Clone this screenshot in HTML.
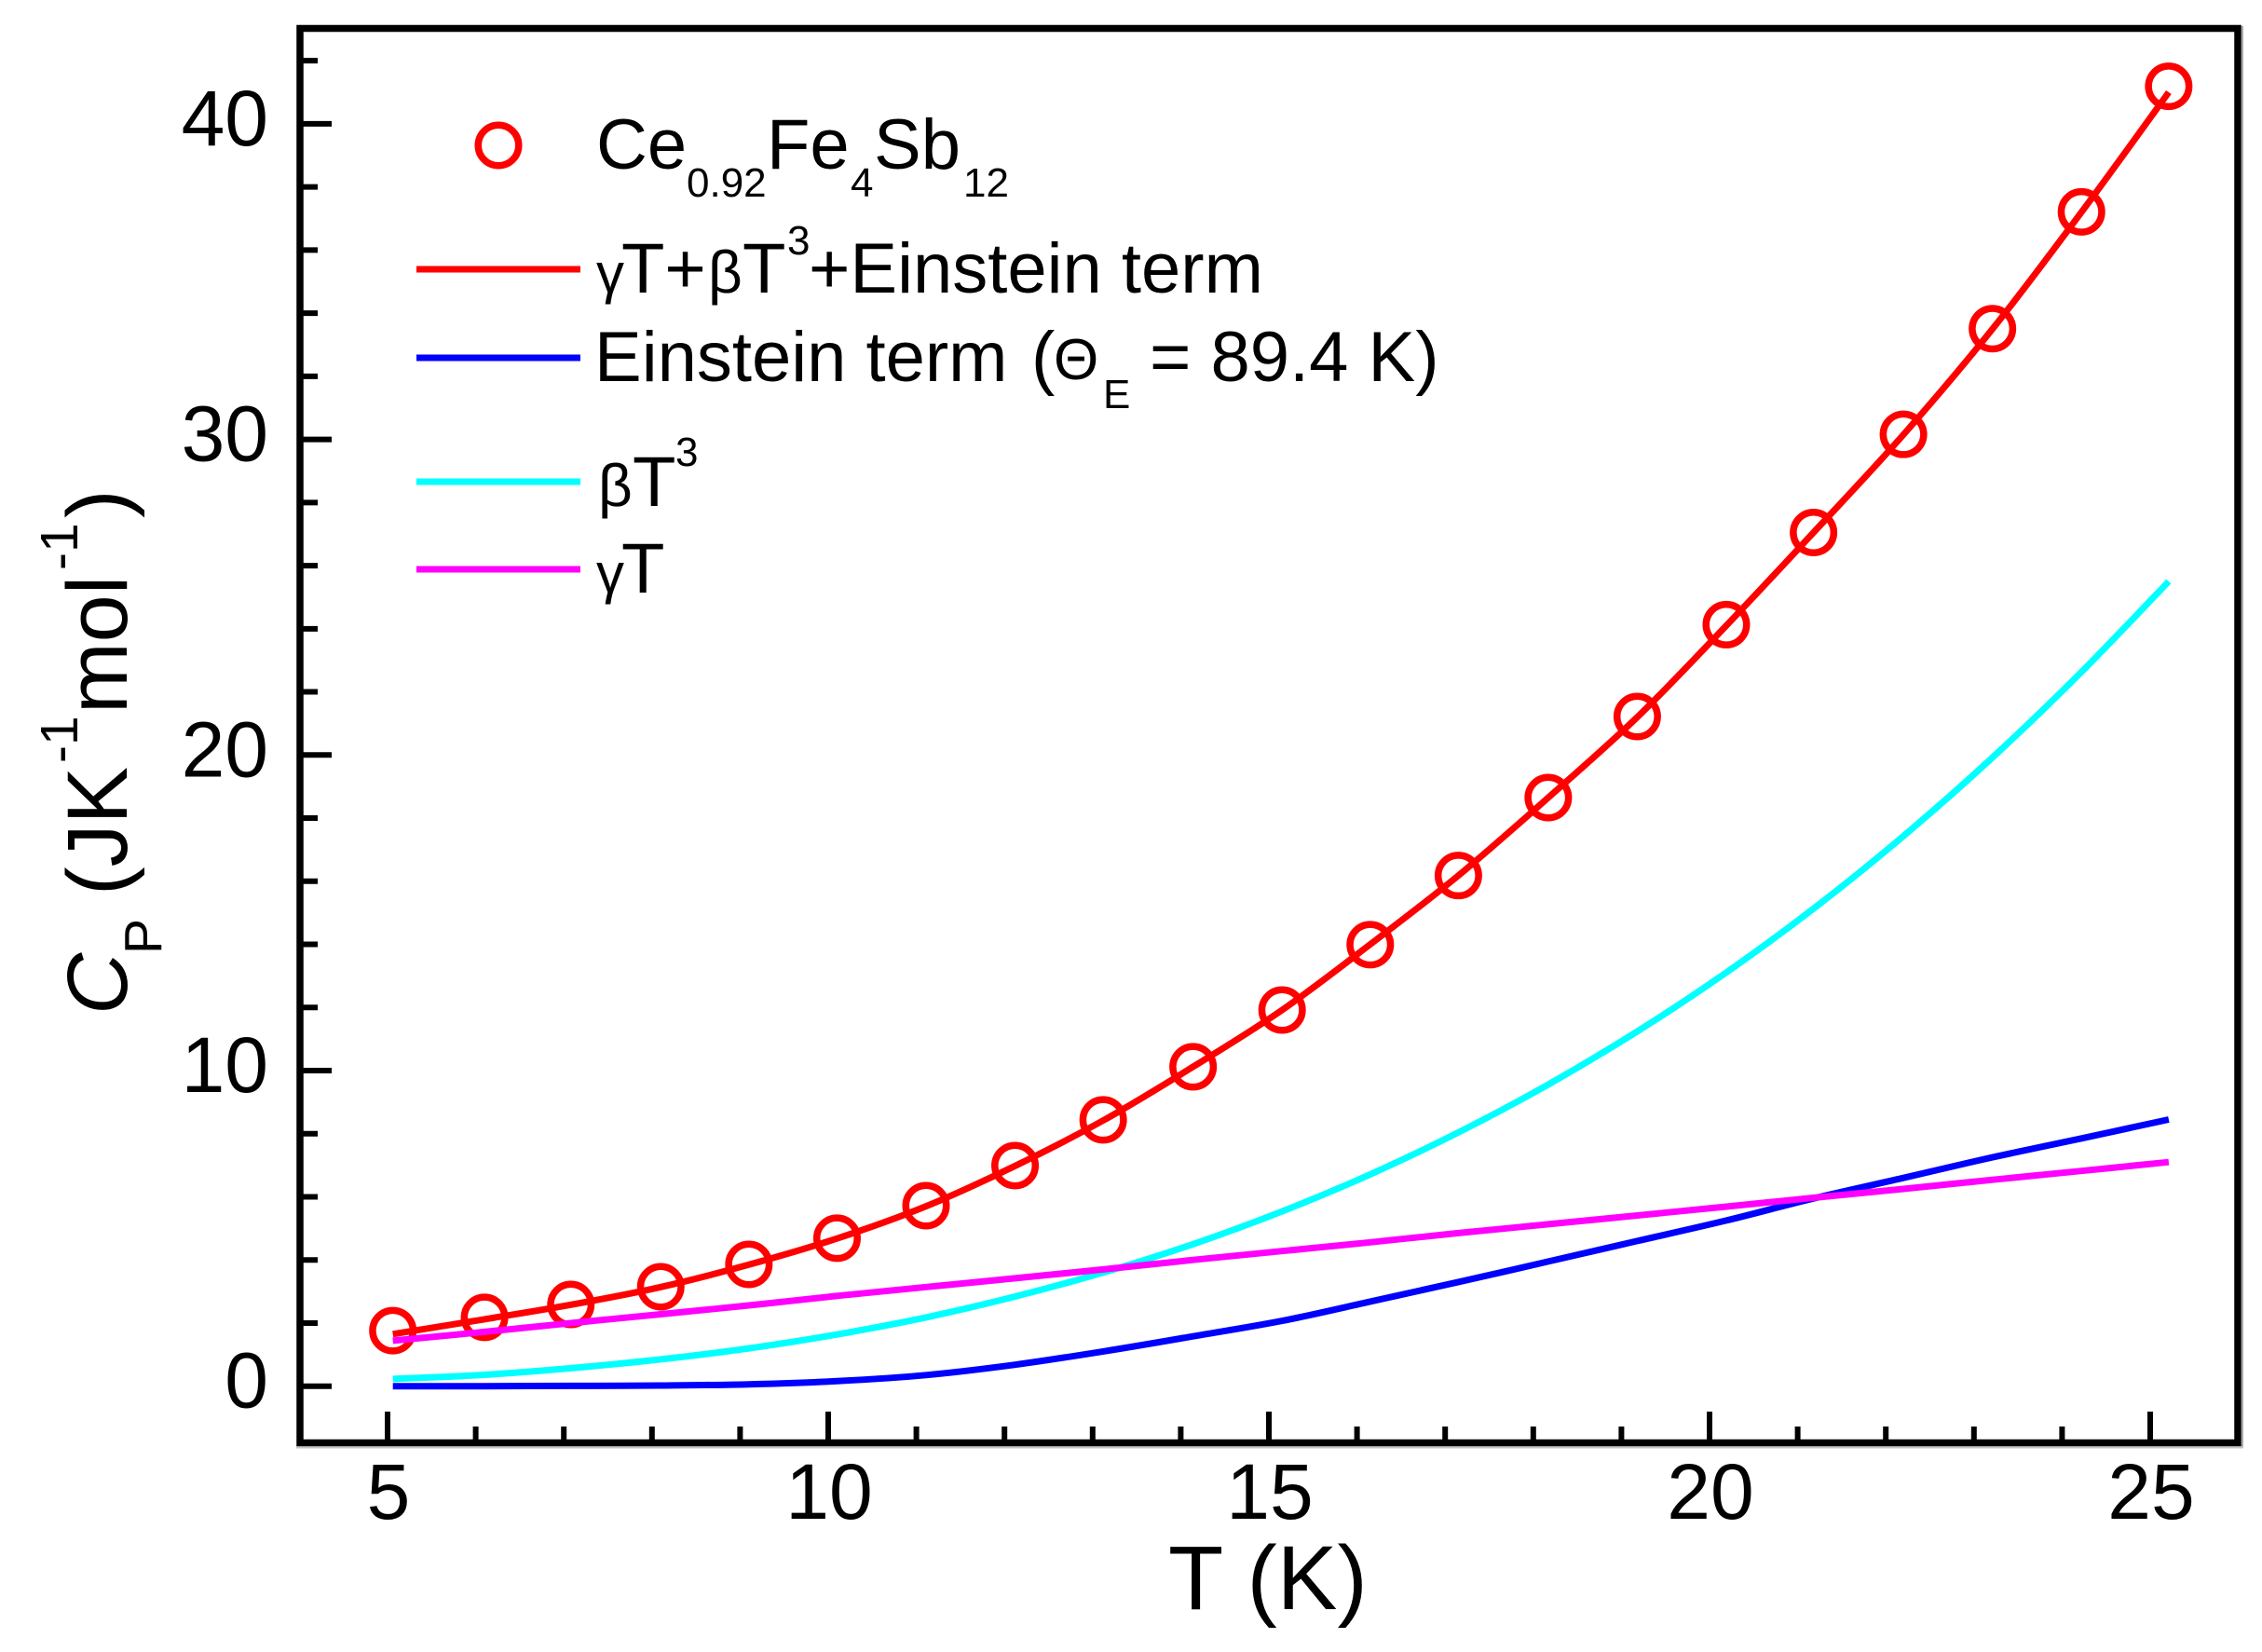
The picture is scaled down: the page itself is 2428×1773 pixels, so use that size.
<!DOCTYPE html>
<html>
<head>
<meta charset="utf-8">
<title>Heat capacity of Ce0.92Fe4Sb12</title>
<style>
html,body{margin:0;padding:0;background:#fff;}
svg{display:block;}
text{font-family:"Liberation Sans",sans-serif;fill:#000;}
</style>
</head>
<body>
<svg id="chart" xmlns="http://www.w3.org/2000/svg" width="2428" height="1773" viewBox="0 0 2428 1773">
  <rect x="0" y="0" width="2428" height="1773" fill="#fff"/>
  <g id="ticks"></g>
  <g id="tick-labels"></g>
  <g id="marks"></g>

  <g>
    <rect x="2406" y="28" width="2" height="1526" fill="#aaa"/>
    <rect x="318" y="1552.5" width="2090" height="2" fill="#c4c4c4"/>
    <rect x="322" y="30.5" width="2080" height="1518" fill="none" stroke="#000" stroke-width="7.5"/>
  </g>

  <g>
    <text x="1254" y="1727" font-size="97">T (K)</text>
  </g>

  <g>
    <text transform="translate(136,1089) rotate(-90)" font-size="92" font-style="italic">C</text>
    <text transform="translate(173,1024) rotate(-90)" font-size="57">P</text>
    <text transform="translate(136,961) rotate(-90)" font-size="92">(JK</text>
    <text transform="translate(83,819) rotate(-90)" font-size="57">-1</text>
    <text transform="translate(136,766) rotate(-90)" font-size="92">mol</text>
    <text transform="translate(83,612) rotate(-90)" font-size="57">-1</text>
    <text transform="translate(136,556) rotate(-90)" font-size="92">)</text>
  </g>

  <g>
    <g>
      <circle cx="535" cy="156" r="21.75" fill="none" stroke="#f00" stroke-width="7.5"/>
      <text x="640" y="181" font-size="76">Ce</text>
      <text x="737" y="211" font-size="44">0.92</text>
      <text x="823" y="181" font-size="76">Fe</text>
      <text x="913" y="211" font-size="44">4</text>
      <text x="938" y="181" font-size="76">Sb</text>
      <text x="1034" y="211" font-size="44">12</text>
    </g>
    <g>
      <line x1="447" x2="623" y1="289" y2="289" stroke="#f00" stroke-width="7"/>
      <text x="640" y="314" font-size="60">γ</text>
      <text x="667" y="314" font-size="76">T+</text>
      <text x="760" y="314" font-size="64">β</text>
      <text x="797" y="314" font-size="76">T</text>
      <text x="845" y="273" font-size="44">3</text>
      <text x="868" y="314" font-size="76">+Einstein term</text>
    </g>
    <g>
      <line x1="447" x2="623" y1="384" y2="384" stroke="#00f" stroke-width="7"/>
      <text x="638" y="409" font-size="76">Einstein term</text>
      <text x="1107" y="409" font-size="76">(</text>
      <text x="1131" y="407" font-size="62">Θ</text>
      <text x="1184" y="438" font-size="44">E</text>
      <text x="1234" y="409" font-size="76">= 89.4 K)</text>
    </g>
    <g>
      <line x1="447" x2="623" y1="517" y2="517" stroke="#0ff" stroke-width="7"/>
      <text x="642" y="543" font-size="64">β</text>
      <text x="679" y="543" font-size="76">T</text>
      <text x="725" y="500" font-size="44">3</text>
    </g>
    <g>
      <line x1="447" x2="623" y1="611" y2="611" stroke="#f0f" stroke-width="7"/>
      <text x="640" y="636" font-size="60">γ</text>
      <text x="667" y="636" font-size="76">T</text>
    </g>
  </g>
</svg>
<script>
// Temperature (K) at which each value was read
const temperatures = [5.06,6.1,7.08,8.1,9.1,10.1,11.11,12.12,13.12,14.14,15.15,16.15,17.15,18.17,19.18,20.19,21.18,22.2,23.21,24.22,25.21];
// Measured heat capacity
const measuredCp = [1.76,2.18,2.59,3.15,3.86,4.69,5.72,6.99,8.44,10.12,11.92,13.99,16.18,18.65,21.22,24.13,27.05,30.16,33.51,37.21,41.19];
// Fit curves
const totalFit = [1.65,2.12,2.58,3.14,3.85,4.68,5.7,6.98,8.42,10.12,11.92,14.0,16.18,18.65,21.2,24.1,27.05,30.15,33.5,37.2,41.0];
const einsteinTerm = [0,0,0.01,0.02,0.06,0.16,0.35,0.68,1.1,1.58,2.07,2.68,3.3,3.95,4.6,5.25,5.95,6.6,7.25,7.85,8.45];
const betaTerm = [0.23,0.36,0.57,0.85,1.2,1.64,2.18,2.84,3.6,4.5,5.54,6.71,8.04,9.56,11.24,13.11,15.13,17.43,19.92,22.63,25.5];
const gammaTerm = [1.44,1.72,2.0,2.28,2.56,2.86,3.14,3.42,3.7,4.0,4.28,4.56,4.85,5.13,5.41,5.69,5.97,6.25,6.54,6.82,7.1];
// Ticks
const xMajorTicks = [5,10,15,20,25];
const xMinorTicks = [6,7,8,9,11,12,13,14,16,17,18,19,21,22,23,24];
const yMajorTicks = [0,10,20,30,40];
const yMinorTicks = [2,4,6,8,12,14,16,18,22,24,26,28,32,34,36,38,42];

const SVG_NS = 'http://www.w3.org/2000/svg';
function xScale(t){ return 416 + (t - 5) * 94.6; }
function yScale(v){ return 1487.7 - v * 33.87; }

function make(tag, attrs, parent){
  const el = document.createElementNS(SVG_NS, tag);
  for (const k in attrs) el.setAttribute(k, attrs[k]);
  parent.appendChild(el);
  return el;
}

const tickGroup = document.getElementById('ticks');
const labelGroup = document.getElementById('tick-labels');
const marksGroup = document.getElementById('marks');

xMajorTicks.forEach(function(t){
  const tick = make('line', {x1:xScale(t), x2:xScale(t), y1:1515, y2:1546, stroke:'#000', 'stroke-width':6}, tickGroup);
  
  
  const label = make('text', {x:xScale(t)+1, y:1630, 'font-size':84, 'text-anchor':'middle'}, labelGroup);
  label.textContent = String(t);
  
  
});
xMinorTicks.forEach(function(t){
  const tick = make('line', {x1:xScale(t), x2:xScale(t), y1:1531, y2:1546, stroke:'#000', 'stroke-width':6}, tickGroup);
  
  
});
yMajorTicks.forEach(function(v){
  const tick = make('line', {x1:322, x2:356, y1:yScale(v), y2:yScale(v), stroke:'#000', 'stroke-width':6}, tickGroup);
  
  
  const label = make('text', {x:288, y:yScale(v)+23, 'font-size':84, 'text-anchor':'end'}, labelGroup);
  label.textContent = String(v);
  
  
});
yMinorTicks.forEach(function(v){
  const tick = make('line', {x1:322, x2:341, y1:yScale(v), y2:yScale(v), stroke:'#000', 'stroke-width':6}, tickGroup);
  
  
});

measuredCp.forEach(function(v, i){
  const dot = make('circle', {cx:xScale(temperatures[i]), cy:yScale(v), r:21.75, fill:'none', stroke:'#f00', 'stroke-width':7.5}, marksGroup);
  
  
});

// Smooth path running through every value of a series
function curvePath(values){
  const pts = values.map(function(v, i){
    return [xScale(temperatures[i]), yScale(v)];
  });
  let d = 'M' + pts[0][0].toFixed(1) + ',' + pts[0][1].toFixed(1);
  for (let i = 0; i < pts.length - 1; i++){
    const p0 = pts[Math.max(i - 1, 0)];
    const p1 = pts[i];
    const p2 = pts[i + 1];
    const p3 = pts[Math.min(i + 2, pts.length - 1)];
    const c1x = p1[0] + (p2[0] - p0[0]) / 6;
    const c1y = p1[1] + (p2[1] - p0[1]) / 6;
    const c2x = p2[0] - (p3[0] - p1[0]) / 6;
    const c2y = p2[1] - (p3[1] - p1[1]) / 6;
    d += 'C' + c1x.toFixed(1) + ',' + c1y.toFixed(1) + ' ' + c2x.toFixed(1) + ',' + c2y.toFixed(1) + ' ' + p2[0].toFixed(1) + ',' + p2[1].toFixed(1);
  }
  return d;
}

const fitLine = make('path', {d:curvePath(totalFit), fill:'none', stroke:'#f00', 'stroke-width':7}, marksGroup);



const betaLine = make('path', {d:curvePath(betaTerm), fill:'none', stroke:'#0ff', 'stroke-width':7}, marksGroup);



const einsteinLine = make('path', {d:curvePath(einsteinTerm), fill:'none', stroke:'#00f', 'stroke-width':7}, marksGroup);



const gammaLine = make('path', {d:curvePath(gammaTerm), fill:'none', stroke:'#f0f', 'stroke-width':7}, marksGroup);


</script>
</body>
</html>
